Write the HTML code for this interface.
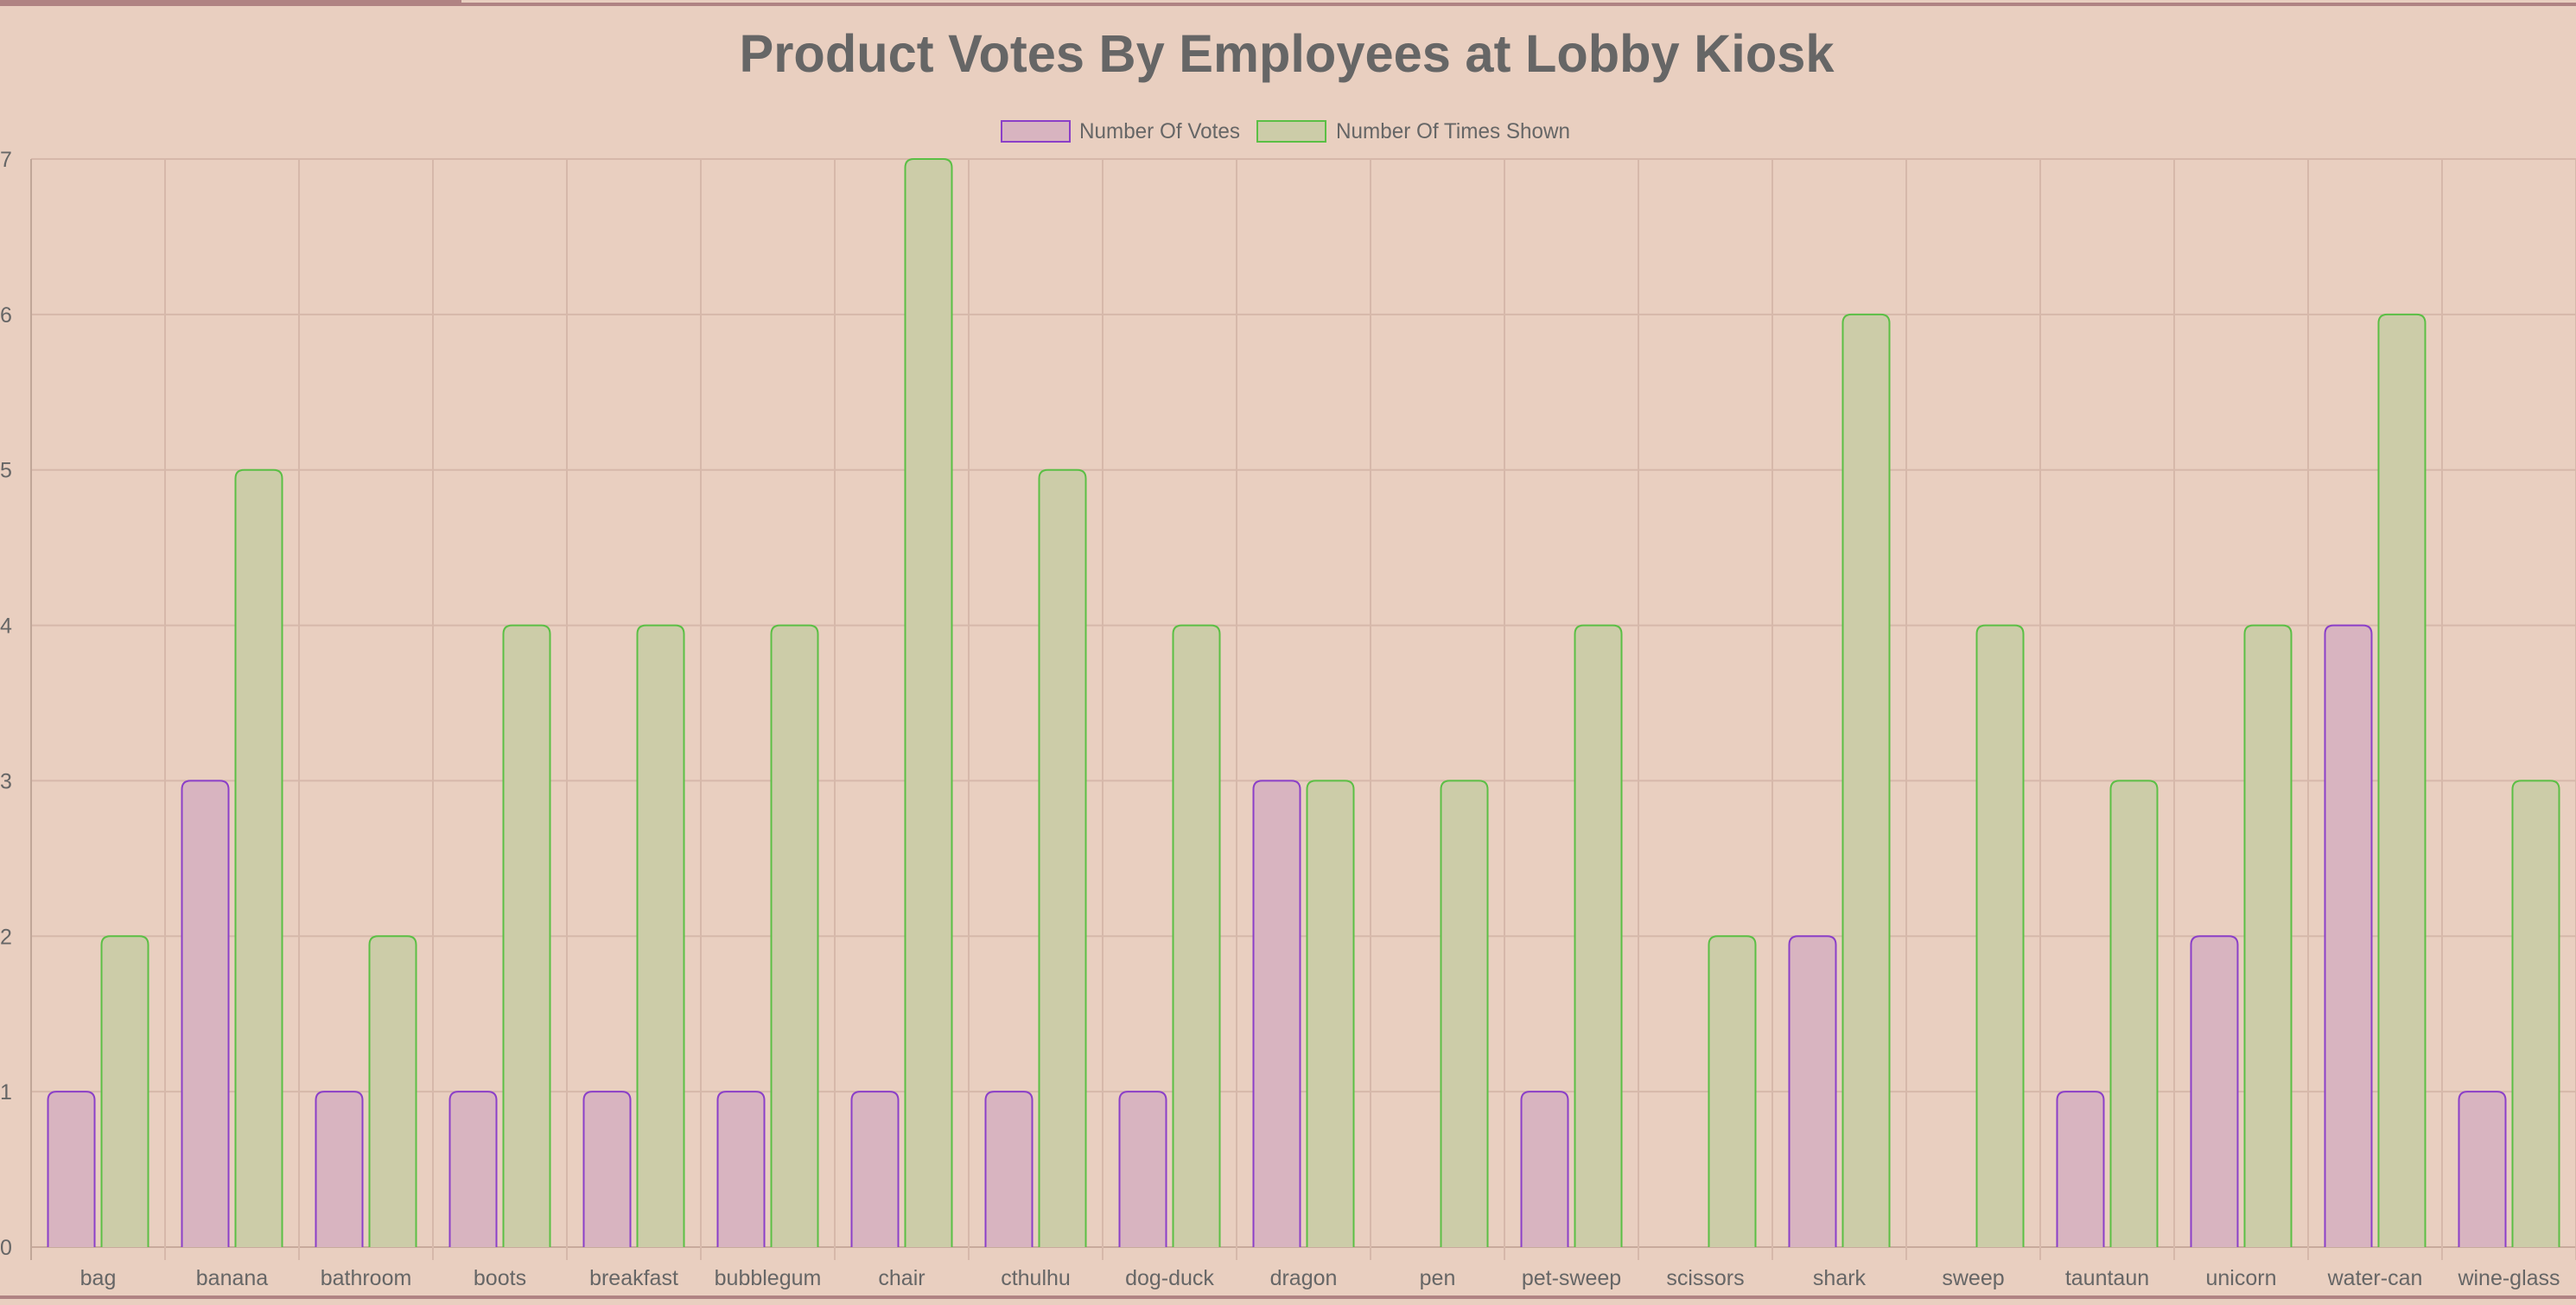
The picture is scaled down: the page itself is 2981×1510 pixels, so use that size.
<!DOCTYPE html>
<html><head><meta charset="utf-8"><style>
html,body{margin:0;padding:0;background:#e9cfc0;}
svg{display:block;font-family:"Liberation Sans",Helvetica,Arial,sans-serif;}
</style></head><body>
<svg id="chart" width="2981" height="1510" xmlns="http://www.w3.org/2000/svg">
<rect x="0" y="0" width="2981" height="1510" fill="#e9cfc0"/>
<rect x="0" y="3" width="2981" height="4" fill="#b08383"/>
<rect x="0" y="0" width="534" height="7" fill="#b08383"/>
<rect x="0" y="1499" width="2981" height="4" fill="#b08383"/>
<text x="1489" y="83" text-anchor="middle" font-size="61" font-weight="bold" fill="#666" textLength="1267" lengthAdjust="spacingAndGlyphs">Product Votes By Employees at Lobby Kiosk</text>
<g>
<g>
<rect x="1159" y="140" width="79" height="24" fill="#d8b4c0" stroke="#8b3fc8" stroke-width="2"/>
<text x="1249" y="160" font-size="25" fill="#666" textLength="186" lengthAdjust="spacingAndGlyphs">Number Of Votes</text>
</g>
<g>
<rect x="1455" y="140" width="79" height="24" fill="#cccca8" stroke="#5bbf45" stroke-width="2"/>
<text x="1546" y="160" font-size="25" fill="#666" textLength="271" lengthAdjust="spacingAndGlyphs">Number Of Times Shown</text>
</g>
</g>
<g id="grid"></g>
<g id="bars"></g>
<g id="labels"></g>
</svg>
<script>
const categories=["bag","banana","bathroom","boots","breakfast","bubblegum","chair","cthulhu","dog-duck","dragon","pen","pet-sweep","scissors","shark","sweep","tauntaun","unicorn","water-can","wine-glass"];
const votes=[1,3,1,1,1,1,1,1,1,3,0,1,0,2,0,1,2,4,1];
const shown=[2,5,2,4,4,4,7,5,4,3,3,4,2,6,4,3,4,6,3];
const yTicks=[0,1,2,3,4,5,6,7];
const NS="http://www.w3.org/2000/svg";
const plotLeft=36,plotRight=2981,plotTop=184,plotBottom=1443,yMax=7;
const catW=(plotRight-plotLeft)/categories.length;
function yPos(v){return plotBottom-(plotBottom-plotTop)*v/yMax;}
function xc(i){return plotLeft+catW*(i+0.5);}
function mk(tag,attrs,parent){const e=document.createElementNS(NS,tag);for(const k in attrs)e.setAttribute(k,attrs[k]);parent.appendChild(e);return e;}
const grid=document.getElementById('grid'),bars=document.getElementById('bars'),labels=document.getElementById('labels');
yTicks.forEach(t=>{
  const l=mk('line',{x1:plotLeft,x2:plotRight,y1:yPos(t),y2:yPos(t),stroke:t===0?'#c8aa9c':'#d6b8aa','stroke-width':2},grid);
  
  
  const tx=mk('text',{x:0,y:yPos(t)+9,'font-size':25,fill:'#666'},labels);
  tx.textContent=t;
  
  
});
for(let i=0;i<=categories.length;i++){
  const x=plotLeft+catW*i;
  const l=mk('line',{x1:x,x2:x,y1:plotTop,y2:plotBottom+15,stroke:i===0?'#c0a698':'#d6b8aa','stroke-width':2},grid);
  
  
}
function bar(cx,v,fill,stroke,name){
  if(v<=0)return;
  const w=54,r=10,x0=cx-w/2,x1=cx+w/2,yt=yPos(v),yb=plotBottom;
  const d=`M${x0},${yb} L${x0},${yt+r} Q${x0},${yt} ${x0+r},${yt} L${x1-r},${yt} Q${x1},${yt} ${x1},${yt+r} L${x1},${yb}`;
  const p=mk('path',{d:d,fill:fill,stroke:stroke,'stroke-width':2},bars);
  
  
}
categories.forEach((c,i)=>{
  bar(xc(i)-31,votes[i],'#d8b4c0','#8b3fc8','bar-votes-'+c);
  bar(xc(i)+31,shown[i],'#cccca8','#5bbf45','bar-shown-'+c);
  const t=mk('text',{x:xc(i),y:1487,'text-anchor':'middle','font-size':25,fill:'#666'},labels);
  t.textContent=c;
  
  
});
</script>
</body></html>
